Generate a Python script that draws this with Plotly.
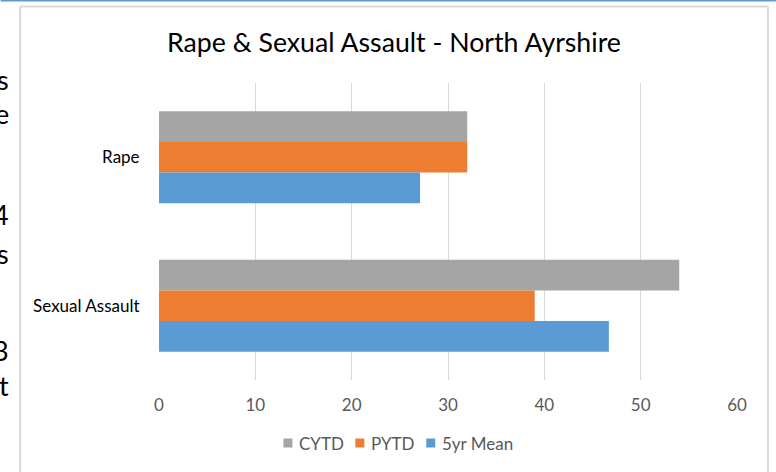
import plotly.graph_objects as go

categories = ["Rape", "Sexual Assault"]
series_names = ["CYTD", "PYTD", "5yr Mean"]
cytd = [32, 54]
pytd = [32, 39]
mean5 = [27.1, 46.7]
colors = ["#A5A5A5", "#ED7D31", "#5B9BD5"]
x_ticks = [0, 10, 20, 30, 40, 50, 60]
side_chars = [("s", 79), ("e", 114), ("4", 214), ("s", 254), ("3", 350), ("t", 385)]

W, H = 776, 472
L, R, T, B = 158.5, 737, 83, 380
FONT = "Lato"

fig = go.Figure()
for name, vals, col in zip(series_names, [cytd, pytd, mean5], colors):
    fig.add_trace(go.Bar(y=categories, x=vals, name=name, orientation="h",
                         marker=dict(color=col, line=dict(width=0)), showlegend=False))

def px(x):
    return (x - L) / (R - L)

def py(y):
    return (B - y) / (B - T)

annotations = [dict(text="Rape & Sexual Assault - North Ayrshire", x=px(394), y=py(42),
                    xref="paper", yref="paper", showarrow=False,
                    font=dict(family=FONT, size=26.7, color="#000000"),
                    xanchor="center", yanchor="middle")]
for ch, yy in side_chars:
    annotations.append(dict(text=ch, x=px(10), y=py(yy), xref="paper", yref="paper",
                            showarrow=False, xanchor="right", yanchor="middle",
                            font=dict(family=FONT, size=27, color="#000000")))

shapes = [
    dict(type="line", xref="paper", yref="paper", x0=px(0), x1=px(W), y0=py(0.5), y1=py(0.5),
         line=dict(color="#5B9BD5", width=2)),
    dict(type="line", xref="paper", yref="paper", x0=px(19.5), x1=px(19.5), y0=py(6.5), y1=py(H + 5),
         line=dict(color="#D9D9D9", width=2)),
    dict(type="line", xref="paper", yref="paper", x0=px(19.5), x1=px(768), y0=py(6.5), y1=py(6.5),
         line=dict(color="#D9D9D9", width=2)),
    dict(type="line", xref="paper", yref="paper", x0=px(768), x1=px(768), y0=py(6.5), y1=py(H + 5),
         line=dict(color="#D9D9D9", width=2)),
]

# legend (manual, to match the compact spacing of the original)
legend_x = [283, 355, 426]
for name, col, lx in zip(series_names, colors, legend_x):
    shapes.append(dict(type="rect", xref="paper", yref="paper",
                       x0=px(lx), x1=px(lx + 9), y0=py(438.5), y1=py(447.5),
                       fillcolor=col, line=dict(width=0)))
    annotations.append(dict(text=name, x=px(lx + 14), y=py(443), xref="paper", yref="paper",
                            showarrow=False, xanchor="left", yanchor="middle",
                            font=dict(family=FONT, size=17, color="#595959")))

fig.update_layout(
    width=W, height=H,
    margin=dict(l=L, r=W - R, t=T, b=H - B, pad=0),
    paper_bgcolor="white", plot_bgcolor="white",
    barmode="group", bargap=0.38, bargroupgap=0,
    font=dict(family=FONT, color="#595959"),
    showlegend=False,
    annotations=annotations,
    shapes=shapes,
)
fig.update_xaxes(range=[0, 60], tickvals=x_ticks, showgrid=True, gridcolor="#D9D9D9", gridwidth=1,
                 zeroline=False, showline=False, ticks="outside", ticklen=10,
                 tickcolor="rgba(0,0,0,0)", tickfont=dict(family=FONT, size=17, color="#595959"),
                 fixedrange=True)
fig.update_yaxes(autorange="reversed", showgrid=False, zeroline=False, showline=False,
                 ticks="outside", ticklen=15, tickcolor="rgba(0,0,0,0)",
                 tickfont=dict(family=FONT, size=17, color="#000000"), fixedrange=True)

fig.write_html("out.html", config={"displayModeBar": False},
               post_script="document.body.style.margin='0';document.body.style.overflow='hidden';")
